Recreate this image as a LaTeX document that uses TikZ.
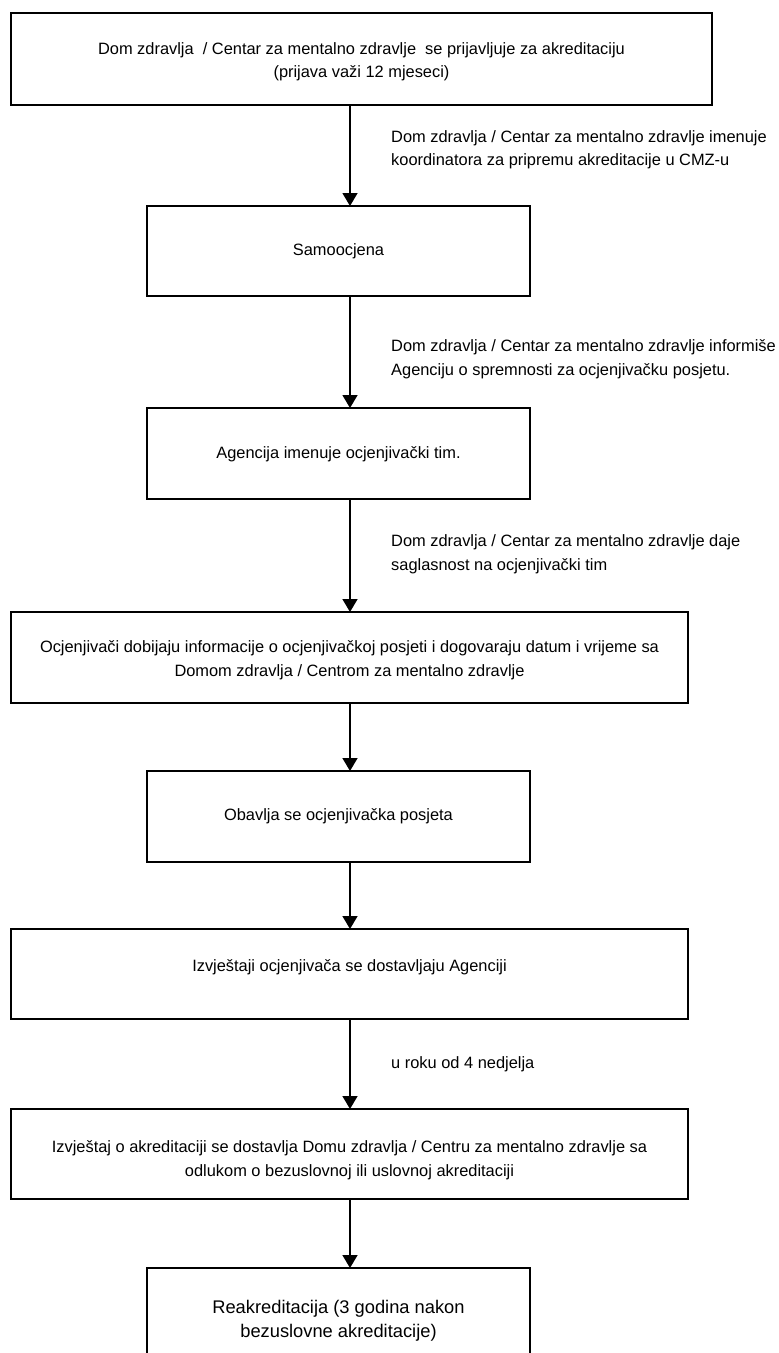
\documentclass[tikz,border=0pt]{standalone}
\usepackage{fontspec}
\setmainfont{Liberation Sans}
\usetikzlibrary{arrows.meta}
\begin{document}
\begin{tikzpicture}[x=1pt,y=-1pt,
  flowbox/.style={draw=black,line width=1.5pt,fill=none,inner sep=0pt,outer sep=0pt,rectangle},
  boxtext/.style={align=center,inner sep=0pt,font=\fontsize{16.4}{23.5}\selectfont},
  bigtext/.style={align=center,inner sep=0pt,font=\fontsize{18.3}{23.5}\selectfont},
  lbltext/.style={align=left,anchor=west,inner sep=0pt,font=\fontsize{16.4}{23.5}\selectfont},
  flowarrow/.style={line width=1.5pt,-{Triangle[width=15pt,length=13pt]}}]
\useasboundingbox (0,0) rectangle (779,1353);
\coordinate (ax) at (350,0);
% boxes
\node[flowbox,minimum width=701pt,minimum height=92pt] (b1) at (361.5,59) {};
\node[flowbox,minimum width=383pt,minimum height=90pt] (b2) at (338.5,251) {};
\node[flowbox,minimum width=383pt,minimum height=91pt] (b3) at (338.5,453.5) {};
\node[flowbox,minimum width=677pt,minimum height=91pt] (b4) at (349.5,657.5) {};
\node[flowbox,minimum width=383pt,minimum height=91pt] (b5) at (338.5,816.5) {};
\node[flowbox,minimum width=677pt,minimum height=90pt] (b6) at (349.5,974) {};
\node[flowbox,minimum width=677pt,minimum height=90pt] (b7) at (349.5,1154) {};
\node[flowbox,minimum width=383pt,minimum height=100pt] (b8) at (338.5,1318) {};
% box texts
\node[boxtext] (t1) at (361.5,62) {Dom zdravlja\ \ / Centar za mentalno zdravlje\ \ se prijavljuje za akreditaciju\\(prijava važi 12 mjeseci)};
\node[boxtext] (t2) at (338.5,251) {Samoocjena};
\node[boxtext] (t3) at (338.5,454) {Agencija imenuje ocjenjivački tim.};
\node[boxtext] (t4) at (349.5,660) {Ocjenjivači dobijaju informacije o ocjenjivačkoj posjeti i dogovaraju datum i vrijeme sa\\Domom zdravlja / Centrom za mentalno zdravlje};
\node[boxtext] (t5) at (338.5,816) {Obavlja se ocjenjivačka posjeta};
\node[boxtext] (t6) at (349.5,967) {Izvještaji ocjenjivača se dostavljaju Agenciji};
\node[boxtext] (t7) at (349.5,1160) {Izvještaj o akreditaciji se dostavlja Domu zdravlja / Centru za mentalno zdravlje sa\\odlukom o bezuslovnoj ili uslovnoj akreditaciji};
\node[bigtext] (t8) at (338.5,1321) {Reakreditacija (3 godina nakon\\bezuslovne akreditacije)};
% connectors
\draw[flowarrow] (b1.south -| ax) -- (b2.north -| ax);
\draw[flowarrow] (b2.south -| ax) -- (b3.north -| ax);
\draw[flowarrow] (b3.south -| ax) -- (b4.north -| ax);
\draw[flowarrow] (b4.south -| ax) -- (b5.north -| ax);
\draw[flowarrow] (b5.south -| ax) -- (b6.north -| ax);
\draw[flowarrow] (b6.south -| ax) -- (b7.north -| ax);
\draw[flowarrow] (b7.south -| ax) -- (b8.north -| ax);
% connector labels
\node[lbltext] (l1) at (391,150) {Dom zdravlja / Centar za mentalno zdravlje imenuje\\koordinatora za pripremu akreditacije u CMZ-u};
\node[lbltext] (l2) at (391,359) {Dom zdravlja / Centar za mentalno zdravlje informiše\\Agenciju o spremnosti za ocjenjivačku posjetu.};
\node[lbltext] (l3) at (391,554) {Dom zdravlja / Centar za mentalno zdravlje daje\\saglasnost na ocjenjivački tim};
\node[lbltext] (l4) at (391,1064) {u roku od 4 nedjelja};
\end{tikzpicture}
\end{document}
